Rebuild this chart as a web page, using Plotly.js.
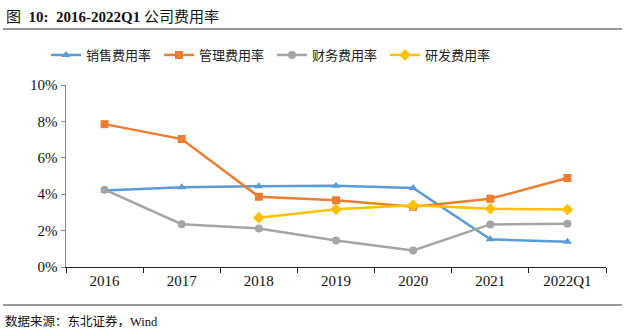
<!DOCTYPE html>
<html>
<head>
<meta charset="utf-8">
<script src="https://cdn.plot.ly/plotly-3.0.1.min.js"></script>
<style>html,body{margin:0;padding:0;background:#fff;}#chart{width:629px;height:334px;}</style>
</head>
<body>
<div id="chart"></div>
<script>
const categories = ["2016", "2017", "2018", "2019", "2020", "2021", "2022Q1"];
const salesRate = [0.0421, 0.0438, 0.0444, 0.0447, 0.0434, 0.0152, 0.0139];
const adminRate = [0.0785, 0.0703, 0.0386, 0.0367, 0.0331, 0.0375, 0.0489];
const financeRate = [0.0425, 0.0235, 0.0212, 0.0146, 0.0091, 0.0234, 0.0237];
const rdRate = [null, null, 0.0271, 0.0317, 0.0339, 0.0320, 0.0316];
const seriesNames = ["销售费用率", "管理费用率", "财务费用率", "研发费用率"];

const serif = '"Liberation Serif", "Times New Roman", "Noto Sans CJK SC", serif';
const cjk = '"Noto Sans CJK SC", "Liberation Serif", serif';

function mk(y, name, color, symbol, size) {
  return {
    x: categories, y: y, name: name, type: 'scatter', mode: 'lines+markers',
    line: {color: color, width: 2.5},
    marker: {color: color, symbol: symbol, size: size},
    connectgaps: false,
    hoverinfo: 'skip'
  };
}
const data = [
  mk(salesRate, seriesNames[0], '#5B9BD5', 'triangle-up', 8),
  mk(adminRate, seriesNames[1], '#ED7D31', 'square', 8),
  mk(financeRate, seriesNames[2], '#A5A5A5', 'circle', 8),
  mk(rdRate, seriesNames[3], '#FFC000', 'diamond', 9)
];

const L = 66, R = 606, T = 85, B = 267;
const px = v => (v - L) / (R - L);
const py = v => (B - v) / (B - T);

const layout = {
  width: 629, height: 334,
  margin: {l: L, r: 629 - R, t: T, b: 334 - B},
  paper_bgcolor: '#fff', plot_bgcolor: '#fff',
  showlegend: true,
  legend: {
    orientation: 'h', xref: 'container', yref: 'container',
    x: 272 / 629, xanchor: 'center', y: 1 - 55 / 334, yanchor: 'middle',
    font: {family: cjk, size: 13, color: '#222'},
    entrywidth: 68, entrywidthmode: 'pixels',
    traceorder: 'normal', itemclick: false
  },
  xaxis: {
    type: 'category', showgrid: false, zeroline: false,
    showline: true, linecolor: '#222', linewidth: 1,
    ticks: 'outside', tickson: 'boundaries', ticklen: 5, tickcolor: '#222',
    tickfont: {family: serif, size: 15, color: '#111'},
    range: [-0.5, 6.5], fixedrange: true
  },
  yaxis: {
    range: [0, 0.1], dtick: 0.02, tickformat: '.0%',
    showgrid: false, zeroline: false,
    showline: true, linecolor: '#888', linewidth: 1.5,
    ticks: 'outside', ticklen: 4, tickcolor: '#888',
    tickfont: {family: serif, size: 15, color: '#111'},
    fixedrange: true
  },
  shapes: [
    {type: 'line', xref: 'paper', yref: 'paper', x0: px(3), x1: px(622), y0: py(29), y1: py(29), line: {color: '#333', width: 1}},
    {type: 'line', xref: 'paper', yref: 'paper', x0: px(3), x1: px(622), y0: py(305), y1: py(305), line: {color: '#333', width: 1}}
  ],
  annotations: [
    {xref: 'paper', yref: 'paper', x: px(4), y: py(17), xanchor: 'left', yanchor: 'middle', showarrow: false,
     text: '图  <b>10:  2016-2022Q1</b> 公司费用率', font: {family: serif, size: 15, color: '#111'}},
    {xref: 'paper', yref: 'paper', x: px(3), y: py(321), xanchor: 'left', yanchor: 'middle', showarrow: false,
     text: '数据来源：东北证券，Wind', font: {family: serif, size: 12.5, color: '#111'}}
  ]
};

Plotly.newPlot('chart', data, layout, {staticPlot: true, displayModeBar: false});
</script>
</body>
</html>
